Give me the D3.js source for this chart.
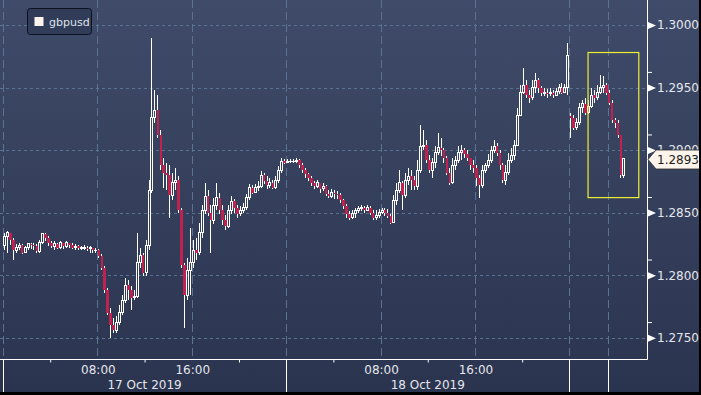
<!DOCTYPE html>
<html>
<head>
<meta charset="utf-8">
<script src="https://cdn.jsdelivr.net/npm/d3@7"></script>
<style>
html, body { margin: 0; padding: 0; background: #000; }
svg { display: block; }
</style>
</head>
<body>
<div id="chart"></div>
<script>
const width = 699, height = 392
const plot = { left: 3, right: 647, axisY: 359 }

// 15 minute candles, open = previous close (except at a session start)
const sessionStarts = ['2019-10-17T00:00', '2019-10-20T20:45']
const sessionOffsets = [0, 48]
const sessionFirstIndex = [0, 192]
const sessionOpens = [1.2824, 1.2927]

const closes = [
    1.2831, 1.2834, 1.2828, 1.2820, 1.2822, 1.2824, 1.2818, 1.2822, 1.2825, 1.2824, 1.2823, 1.2819, 1.2826, 1.2833, 1.2830, 1.2826,
    1.2823, 1.2825, 1.2822, 1.2826, 1.2823, 1.2826, 1.2824, 1.2822, 1.2823, 1.2822, 1.2822, 1.2822, 1.2821, 1.2822, 1.2820, 1.2820,
    1.2815, 1.2806, 1.2788, 1.2770, 1.2760, 1.2756, 1.2762, 1.2770, 1.2780, 1.2792, 1.2788, 1.2782, 1.2783, 1.2810, 1.2816, 1.2802,
    1.2824, 1.2868, 1.2926, 1.2932, 1.2912, 1.2888, 1.2882, 1.2880, 1.2864, 1.2874, 1.2876, 1.2852, 1.2808, 1.2784, 1.2804, 1.2810,
    1.2820, 1.2818, 1.2834, 1.2852, 1.2863, 1.2850, 1.2844, 1.2856, 1.2862, 1.2852, 1.2844, 1.2839, 1.2852, 1.2859, 1.2854, 1.2849,
    1.2852, 1.2854, 1.2862, 1.2870, 1.2866, 1.2870, 1.2871, 1.2880, 1.2875, 1.2872, 1.2874, 1.2870, 1.2876, 1.2884, 1.2891, 1.2890,
    1.2891, 1.2891, 1.2891, 1.2892, 1.2888, 1.2884, 1.2881, 1.2878, 1.2874, 1.2871, 1.2874, 1.2869, 1.2871, 1.2865, 1.2863, 1.2866,
    1.2865, 1.2864, 1.2860, 1.2855, 1.2849, 1.2846, 1.2849, 1.2852, 1.2853, 1.2854, 1.2852, 1.2854, 1.2850, 1.2846, 1.2848, 1.2850,
    1.2852, 1.2850, 1.2847, 1.2842, 1.2860, 1.2868, 1.2874, 1.2864, 1.2876, 1.2879, 1.2876, 1.2871, 1.2884, 1.2903, 1.2904, 1.2892,
    1.2884, 1.2890, 1.2898, 1.2902, 1.2900, 1.2894, 1.2882, 1.2874, 1.2888, 1.2892, 1.2898, 1.2900, 1.2897, 1.2894, 1.2888, 1.2886,
    1.2878, 1.2872, 1.2884, 1.2888, 1.2892, 1.2900, 1.2903, 1.2898, 1.2888, 1.2876, 1.2882, 1.2892, 1.2896, 1.2904, 1.2928, 1.2946,
    1.2952, 1.2944, 1.2942, 1.2950, 1.2956, 1.2950, 1.2946, 1.2946, 1.2945, 1.2946, 1.2944, 1.2947, 1.2950, 1.2946, 1.2950, 1.2976,
    1.2926, 1.2918, 1.2922, 1.2934, 1.2937, 1.2930, 1.2935, 1.2944, 1.2942, 1.2946, 1.2950, 1.2952, 1.2946, 1.2938, 1.2924, 1.2922,
    1.2912, 1.2880, 1.2893
]
const highs = [
    1.2834, 1.2835, 1.2831, 1.2830, 1.2825, 1.2826, 1.2825, 1.2823, 1.2826, 1.2826, 1.2826, 1.2825, 1.2828, 1.2834, 1.2834, 1.2831,
    1.2827, 1.2827, 1.2826, 1.2827, 1.2826, 1.2827, 1.2826, 1.2826, 1.2825, 1.2824, 1.2823, 1.2824, 1.2823, 1.2823, 1.2822, 1.2822,
    1.2821, 1.2817, 1.2807, 1.2790, 1.2774, 1.2766, 1.2767, 1.2776, 1.2784, 1.2798, 1.2796, 1.2791, 1.2788, 1.2834, 1.2822, 1.2818,
    1.2828, 1.2876, 1.2990, 1.2948, 1.2944, 1.2916, 1.2894, 1.2890, 1.2888, 1.2882, 1.2886, 1.2879, 1.2854, 1.2810, 1.2814, 1.2838,
    1.2828, 1.2830, 1.2842, 1.2856, 1.2874, 1.2868, 1.2856, 1.2862, 1.2874, 1.2866, 1.2856, 1.2848, 1.2856, 1.2863, 1.2861, 1.2856,
    1.2855, 1.2858, 1.2865, 1.2873, 1.2872, 1.2873, 1.2875, 1.2883, 1.2882, 1.2879, 1.2878, 1.2876, 1.2879, 1.2887, 1.2894, 1.2893,
    1.2893, 1.2893, 1.2893, 1.2894, 1.2893, 1.2890, 1.2886, 1.2882, 1.2879, 1.2875, 1.2876, 1.2874, 1.2874, 1.2872, 1.2868, 1.2869,
    1.2868, 1.2867, 1.2866, 1.2861, 1.2857, 1.2851, 1.2852, 1.2854, 1.2855, 1.2856, 1.2855, 1.2856, 1.2855, 1.2852, 1.2852, 1.2853,
    1.2854, 1.2854, 1.2853, 1.2849, 1.2864, 1.2874, 1.2884, 1.2875, 1.2882, 1.2886, 1.2884, 1.2879, 1.2892, 1.2920, 1.2916, 1.2908,
    1.2896, 1.2894, 1.2903, 1.2914, 1.2910, 1.2902, 1.2895, 1.2886, 1.2894, 1.2895, 1.2903, 1.2904, 1.2902, 1.2900, 1.2894, 1.2892,
    1.2888, 1.2880, 1.2888, 1.2890, 1.2897, 1.2903, 1.2908, 1.2906, 1.2900, 1.2890, 1.2888, 1.2898, 1.2902, 1.2908, 1.2934, 1.2952,
    1.2966, 1.2956, 1.2948, 1.2956, 1.2962, 1.2958, 1.2951, 1.2950, 1.2949, 1.2950, 1.2948, 1.2950, 1.2953, 1.2954, 1.2953, 1.2986,
    1.2930, 1.2928, 1.2926, 1.2938, 1.2940, 1.2942, 1.2940, 1.2950, 1.2948, 1.2952, 1.2960, 1.2959, 1.2954, 1.2948, 1.2940, 1.2926,
    1.2924, 1.2912, 1.2894
]
const lows = [
    1.2820, 1.2818, 1.2824, 1.2812, 1.2818, 1.2820, 1.2817, 1.2818, 1.2820, 1.2821, 1.2820, 1.2818, 1.2818, 1.2825, 1.2827, 1.2823,
    1.2822, 1.2820, 1.2821, 1.2821, 1.2821, 1.2822, 1.2822, 1.2821, 1.2820, 1.2820, 1.2820, 1.2820, 1.2819, 1.2818, 1.2818, 1.2818,
    1.2814, 1.2804, 1.2786, 1.2768, 1.2750, 1.2754, 1.2754, 1.2760, 1.2768, 1.2778, 1.2780, 1.2772, 1.2780, 1.2782, 1.2806, 1.2799,
    1.2799, 1.2820, 1.2866, 1.2922, 1.2910, 1.2884, 1.2870, 1.2868, 1.2846, 1.2860, 1.2868, 1.2850, 1.2806, 1.2758, 1.2780, 1.2784,
    1.2806, 1.2812, 1.2816, 1.2830, 1.2849, 1.2847, 1.2818, 1.2841, 1.2852, 1.2849, 1.2840, 1.2836, 1.2838, 1.2849, 1.2850, 1.2846,
    1.2847, 1.2850, 1.2852, 1.2860, 1.2865, 1.2866, 1.2867, 1.2870, 1.2873, 1.2869, 1.2870, 1.2869, 1.2869, 1.2874, 1.2882, 1.2889,
    1.2890, 1.2890, 1.2890, 1.2890, 1.2886, 1.2882, 1.2878, 1.2875, 1.2871, 1.2869, 1.2870, 1.2866, 1.2867, 1.2863, 1.2862, 1.2862,
    1.2861, 1.2861, 1.2858, 1.2853, 1.2846, 1.2844, 1.2845, 1.2846, 1.2850, 1.2851, 1.2850, 1.2851, 1.2848, 1.2844, 1.2844, 1.2846,
    1.2849, 1.2847, 1.2846, 1.2841, 1.2842, 1.2856, 1.2866, 1.2852, 1.2862, 1.2872, 1.2868, 1.2868, 1.2868, 1.2882, 1.2900, 1.2890,
    1.2882, 1.2878, 1.2886, 1.2896, 1.2895, 1.2890, 1.2880, 1.2872, 1.2873, 1.2884, 1.2890, 1.2892, 1.2894, 1.2891, 1.2884, 1.2882,
    1.2871, 1.2862, 1.2870, 1.2882, 1.2886, 1.2890, 1.2898, 1.2895, 1.2884, 1.2874, 1.2872, 1.2880, 1.2890, 1.2892, 1.2903, 1.2927,
    1.2945, 1.2942, 1.2938, 1.2940, 1.2946, 1.2946, 1.2943, 1.2943, 1.2942, 1.2943, 1.2942, 1.2943, 1.2945, 1.2945, 1.2946, 1.2944,
    1.2910, 1.2916, 1.2916, 1.2920, 1.2930, 1.2928, 1.2929, 1.2934, 1.2938, 1.2940, 1.2945, 1.2946, 1.2944, 1.2936, 1.2922, 1.2918,
    1.2910, 1.2878, 1.2878
]

const priceTicks = [1.2750, 1.2800, 1.2850, 1.2900, 1.2950, 1.3000]
const priceMinorTicks = [1.27625, 1.28125, 1.28625, 1.29125, 1.29625]
const hourTicks = ['2019-10-17T04:00', '2019-10-17T12:00', '2019-10-17T20:00', '2019-10-18T04:00', '2019-10-18T12:00', '2019-10-18T20:00']
const hourLabels = ['2019-10-17T08:00', '2019-10-17T16:00', '2019-10-18T08:00', '2019-10-18T16:00']
const dayLabels = ['2019-10-17T12:00', '2019-10-18T12:00']
const separators = ['2019-10-17T00:00', '2019-10-18T00:00', '2019-10-19T00:00', '2019-10-21T00:00']
const highlight = { from: '2019-10-20T22:20', to: '2019-10-21T02:38', hi: 1.2978, lo: 1.2862 }
const seriesName = 'gbpusd'

const parse = d3.timeParse('%Y-%m-%dT%H:%M')
const starts = sessionStarts.map(parse)

// trading hours with the weekend removed
function toHours(date) {
    if (date < starts[1]) return (date - starts[0]) / 36e5
    return sessionOffsets[1] + (date - starts[1]) / 36e5
}

const candles = closes.map(function (c, i) {
    const s = i >= sessionFirstIndex[1] ? 1 : 0
    const open = i === sessionFirstIndex[s] ? sessionOpens[s] : closes[i - 1]
    const hours = sessionOffsets[s] + (i - sessionFirstIndex[s]) * 0.25
    return { i: i, hours: hours, open: open, high: highs[i], low: lows[i], close: c }
})

const x = d3.scaleLinear().domain([0, 54.58]).range([plot.left, plot.right])
const y = d3.scaleLinear().domain([1.2750, 1.3000]).range([337.7, 25])

const svg = d3.select('#chart').append('svg')
    .attr('width', width)
    .attr('height', height)

const defs = svg.append('defs')
const grad = defs.append('linearGradient')
    .attr('id', 'bg').attr('x1', 0).attr('x2', 0).attr('y1', 0).attr('y2', 1)
grad.append('stop').attr('offset', '0%').attr('stop-color', '#3f4b69')
grad.append('stop').attr('offset', '100%').attr('stop-color', '#2b344f')
defs.append('clipPath').attr('id', 'clip')
    .append('rect').attr('x', 0).attr('y', 0).attr('width', plot.right).attr('height', plot.axisY)

svg.append('rect').attr('width', width).attr('height', height).attr('fill', 'url(#bg)')

/**
 * grid
 */
const grid = svg.append('g').attr('clip-path', 'url(#clip)')
grid.selectAll('.hgrid').data(priceTicks).enter().append('line')
    .attr('x1', 0).attr('x2', plot.right)
    .attr('y1', d => Math.round(y(d)) + 0.5).attr('y2', d => Math.round(y(d)) + 0.5)
    .attr('stroke', '#5b7293').attr('stroke-dasharray', '3,3')
grid.selectAll('.vgrid').data(separators.concat(hourLabels)).enter().append('line')
    .attr('x1', d => Math.round(x(toHours(parse(d)))) + 0.5)
    .attr('x2', d => Math.round(x(toHours(parse(d)))) + 0.5)
    .attr('y1', 0).attr('y2', plot.axisY)
    .attr('stroke', '#5b7293').attr('stroke-dasharray', '8,4')

/**
 * candles
 */
const cg = svg.append('g').attr('clip-path', 'url(#clip)').attr('shape-rendering', 'crispEdges')
const cx = d => x(d.hours + 0.125)
const up = d => d.close >= d.open

cg.selectAll('.wick-top').data(candles).enter().append('line')
    .attr('x1', cx).attr('x2', cx)
    .attr('y1', d => y(d.high))
    .attr('y2', d => Math.max(y(d.high), y(Math.max(d.open, d.close))))
    .attr('stroke', '#fff')
cg.selectAll('.wick-bot').data(candles).enter().append('line')
    .attr('x1', cx).attr('x2', cx)
    .attr('y1', d => Math.min(y(d.low), y(Math.min(d.open, d.close))))
    .attr('y2', d => y(d.low))
    .attr('stroke', '#fff')
cg.selectAll('.body').data(candles).enter().append('rect')
    .attr('x', d => cx(d) - (up(d) ? 1 : 1.3))
    .attr('width', d => up(d) ? 2 : 2.6)
    .attr('y', d => y(Math.max(d.open, d.close)))
    .attr('height', d => Math.max(0.6, Math.abs(y(d.open) - y(d.close))))
    .attr('fill', d => up(d) ? 'none' : '#c0214e')
    .attr('stroke', d => up(d) ? '#fff' : 'none')
    .attr('stroke-width', 1)

/**
 * highlight box
 */
svg.append('rect')
    .attr('x', x(toHours(parse(highlight.from))))
    .attr('y', y(highlight.hi))
    .attr('width', x(toHours(parse(highlight.to))) - x(toHours(parse(highlight.from))))
    .attr('height', y(highlight.lo) - y(highlight.hi))
    .attr('fill', 'none').attr('stroke', '#eeee33').attr('stroke-width', 1.2)

/**
 * axes
 */
const axisColor = '#ffffff', textColor = '#e4e6ec'
const font = '"DejaVu Sans", Verdana, sans-serif'

svg.append('line').attr('x1', plot.right + 0.5).attr('x2', plot.right + 0.5)
    .attr('y1', 0).attr('y2', plot.axisY + 0.5).attr('stroke', axisColor)
svg.append('line').attr('x1', 0).attr('x2', plot.right + 0.5)
    .attr('y1', plot.axisY + 0.5).attr('y2', plot.axisY + 0.5).attr('stroke', axisColor)

const yAxis = svg.append('g')
    .attr('transform', 'translate(' + (plot.right + 1) + ',0)')
    .call(d3.axisRight(y).tickValues(priceTicks).tickFormat(d3.format('.4f')).tickSize(0).tickPadding(9))
yAxis.select('.domain').remove()
yAxis.selectAll('text').attr('fill', textColor).attr('font-size', 12).attr('font-family', font)
yAxis.selectAll('.tick').append('path')
    .attr('d', 'M0,-3.5L8,0L0,3.5Z').attr('fill', axisColor)

const yMinor = svg.append('g')
    .attr('transform', 'translate(' + (plot.right + 1) + ',0)')
    .call(d3.axisRight(y).tickValues(priceMinorTicks).tickFormat('').tickSize(4))
yMinor.select('.domain').remove()
yMinor.selectAll('line').attr('stroke', axisColor)

const xAxis = svg.append('g')
    .attr('transform', 'translate(0,' + (plot.axisY + 0.5) + ')')
    .call(d3.axisBottom(x).tickValues(hourTicks.map(d => toHours(parse(d)))).tickFormat('').tickSize(3))
xAxis.select('.domain').remove()
xAxis.selectAll('line').attr('stroke', axisColor)

svg.selectAll('.sep').data(separators).enter().append('line')
    .attr('x1', d => Math.round(x(toHours(parse(d)))) + 0.5)
    .attr('x2', d => Math.round(x(toHours(parse(d)))) + 0.5)
    .attr('y1', plot.axisY).attr('y2', height)
    .attr('stroke', axisColor)

svg.selectAll('.hlabel').data(hourLabels).enter().append('text')
    .attr('x', d => x(toHours(parse(d))) + 1)
    .attr('y', 374)
    .attr('text-anchor', 'middle')
    .attr('fill', textColor).attr('font-size', 12).attr('font-family', font)
    .text(d => d3.timeFormat('%H:%M')(parse(d)))
svg.selectAll('.dlabel').data(dayLabels).enter().append('text')
    .attr('x', d => x(toHours(parse(d))))
    .attr('y', 389)
    .attr('text-anchor', 'middle')
    .attr('fill', textColor).attr('font-size', 12).attr('font-family', font)
    .text(d => d3.timeFormat('%-d %b %Y')(parse(d)))

/**
 * last price tag
 */
const last = closes[closes.length - 1]
const ly = Math.round(y(last)) + 0.5
const tag = svg.append('g').attr('transform', 'translate(' + (plot.right + 1) + ',' + ly + ')')
tag.append('path')
    .attr('d', 'M0,0L8,-9.5L52,-9.5L52,9.5L8,9.5Z')
    .attr('fill', '#fcf4ea').attr('stroke', '#2a2a2a').attr('stroke-width', 0.8)
tag.append('text')
    .attr('x', 9).attr('y', 4.5)
    .attr('fill', '#1d1d1d').attr('font-size', 12).attr('font-family', font)
    .text(d3.format('.4f')(last))

/**
 * legend
 */
const legend = svg.append('g').attr('transform', 'translate(27,8)')
legend.append('rect')
    .attr('x', 0.5).attr('y', 0.5).attr('width', 64).attr('height', 26).attr('rx', 3)
    .attr('fill', '#303c58').attr('stroke', '#0c1120')
legend.append('rect')
    .attr('x', 7.5).attr('y', 9).attr('width', 9).attr('height', 9).attr('fill', '#fff4ee')
legend.append('text')
    .attr('x', 22).attr('y', 18)
    .attr('fill', '#dfe3ea').attr('font-size', 11).attr('font-family', font)
    .text(seriesName)
</script>
</body>
</html>
